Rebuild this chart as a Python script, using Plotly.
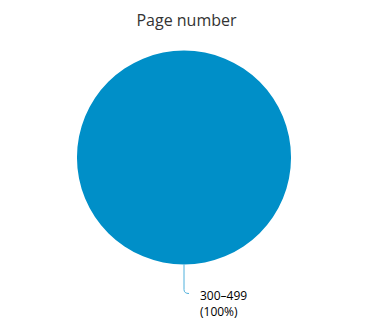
import plotly.graph_objects as go

categories = ["300–499"]
values = [100]
colors = ["#008FC8"]

W, H = 373, 332
cx, cy, r = 184, 157.5, 107

total = sum(values)
pcts = [v / total * 100 for v in values]

fig = go.Figure(go.Pie(
    labels=categories,
    values=values,
    marker=dict(colors=colors, line=dict(width=0)),
    sort=False,
    direction="clockwise",
    rotation=0,
    textinfo="none",
    domain=dict(x=[(cx - r) / W, (cx + r) / W], y=[(H - cy - r) / H, (H - cy + r) / H]),
    showlegend=False,
    hoverinfo="label+percent",
))


def px(x):
    return x / W


def py(y):
    return 1 - y / H


# connector from the slice bottom to the outside label
x0, y0 = cx, cy + r
path = (f"M {px(x0)},{py(y0)} L {px(x0)},{py(y0 + 25)} "
        f"Q {px(x0)},{py(y0 + 29)} {px(x0 + 5)},{py(y0 + 29)}")
fig.add_shape(type="path", path=path, xref="paper", yref="paper",
              line=dict(color="#4FB0DC", width=1))

lab_font = dict(family="Open Sans", size=12, color="#000000")
fig.add_annotation(text=f"{categories[0]}<br>({pcts[0]:.0f}%)", x=px(198), y=py(303.5),
                   xref="paper", yref="paper", xanchor="left", yanchor="middle",
                   align="left", showarrow=False, font=lab_font)

fig.update_layout(
    width=W, height=H,
    margin=dict(l=0, r=0, t=0, b=0),
    paper_bgcolor="white",
    title=dict(text="Page number", x=0.5, xanchor="center", y=1 - 20 / H, yanchor="middle",
               font=dict(family="Open Sans", size=16, color="#333333")),
)

fig.write_html("out.html")
